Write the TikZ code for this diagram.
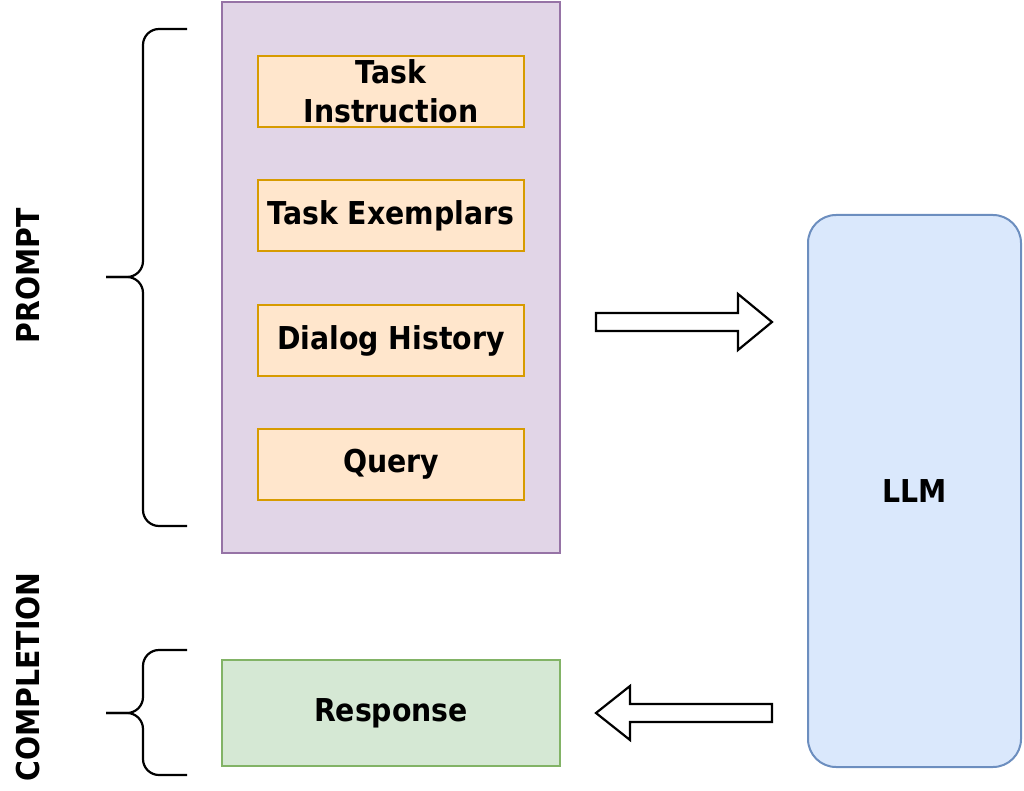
\documentclass[tikz,border=0pt]{standalone}
\usepackage{fontspec}
\setmainfont{DejaVu Sans}[FakeStretch=0.9]
\definecolor{purfill}{HTML}{E1D5E7}
\definecolor{purline}{HTML}{9673A6}
\definecolor{orfill}{HTML}{FFE6CC}
\definecolor{orline}{HTML}{D79B00}
\definecolor{grfill}{HTML}{D5E8D4}
\definecolor{grline}{HTML}{82B366}
\definecolor{blfill}{HTML}{DAE8FC}
\definecolor{blline}{HTML}{6C8EBF}
\begin{document}
\begin{tikzpicture}[x=1pt,y=-1pt,
  every node/.style={font=\fontsize{31.5}{38.5}\selectfont\bfseries, inner sep=0pt, align=center},
  panel/.style={draw=purline, fill=purfill, line width=2pt, rectangle},
  partbox/.style={draw=orline, fill=orfill, line width=2pt, rectangle, minimum width=266, minimum height=71},
  respbox/.style={draw=grline, fill=grfill, line width=2pt, rectangle},
  llmbox/.style={draw=blline, fill=blfill, line width=2pt, rectangle, rounded corners=28pt},
  blockarrow/.style={draw=black, fill=white, line width=2.2pt, line join=miter},
  bracel/.style={draw=black, line width=2.2pt, rounded corners=16pt},
  sidelabel/.style={rotate=90}]
\useasboundingbox (0,0) rectangle (1024,791);

\node[panel, minimum width=338, minimum height=551] (prompt) at (391,277.5) {};
\node[partbox] (instr) at (391,91.5) {Task\\Instruction};
\node[partbox] (exem) at (391,215.5) {Task Exemplars};
\node[partbox] (hist) at (391,340.5) {Dialog History};
\node[partbox] (query) at (391,464.5) {Query};

\node[respbox, minimum width=338, minimum height=106] (resp) at (391,713) {Response};
\node[llmbox, minimum width=213, minimum height=552] (llm) at (914.5,491) {LLM};

% block arrows
\draw[blockarrow] (596,313) -- (738,313) -- (738,294) -- (772,322) -- (738,350) -- (738,331) -- (596,331) -- cycle;
\draw[blockarrow] (772,704) -- (630,704) -- (630,686) -- (596,713) -- (630,740) -- (630,722) -- (772,722) -- cycle;

% braces
\coordinate (pt) at (187,29);
\coordinate (pb) at (187,526);
\coordinate (ptip) at (106,277);
\draw[bracel] (pt) -- (143,29) -- (143,277) -- (ptip);
\draw[bracel] (pb) -- (143,526) -- (143,277) -- (ptip);
\coordinate (ct) at (187,650);
\coordinate (cb) at (187,775);
\coordinate (ctip) at (106,713);
\draw[bracel] (ct) -- (143,650) -- (143,713) -- (ctip);
\draw[bracel] (cb) -- (143,775) -- (143,713) -- (ctip);

\node[sidelabel] (plabel) at (28,276) {PROMPT};
\node[sidelabel] (clabel) at (28,677) {COMPLETION};
\end{tikzpicture}
\end{document}
